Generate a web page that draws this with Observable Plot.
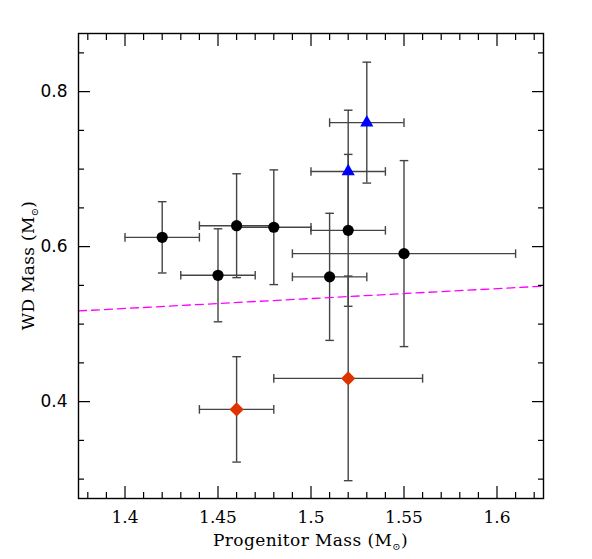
<!DOCTYPE html>
<html><head><meta charset="utf-8">
<script src="https://cdn.jsdelivr.net/npm/d3@7"></script>
<script src="https://cdn.jsdelivr.net/npm/@observablehq/plot@0.6"></script>
<style>body{margin:0;background:#fff}</style>
</head><body><div id="chart"></div>
<script>
// Black circles
const circleMass = [1.42, 1.45, 1.46, 1.48, 1.51, 1.52, 1.55];
const circleMassErr = [0.02, 0.02, 0.02, 0.02, 0.02, 0.02, 0.06];
const circleWD = [0.612, 0.563, 0.627, 0.625, 0.561, 0.621, 0.591];
const circleWDErr = [0.046, 0.060, 0.067, 0.074, 0.082, 0.098, 0.120];
// Blue triangles
const triangleMass = [1.52, 1.53];
const triangleMassErr = [0.02, 0.02];
const triangleWD = [0.697, 0.760];
const triangleWDErr = [0.079, 0.078];
// Red diamonds
const diamondMass = [1.46, 1.52];
const diamondMassErr = [0.02, 0.04];
const diamondWD = [0.390, 0.430];
const diamondWDErr = [0.068, 0.132];
// Magenta dashed relation
const lineMass = [1.375, 1.625];
const lineWD = [0.517, 0.549];
// Ticks
const xTicks = [1.4, 1.45, 1.5, 1.55, 1.6];
const xMinorTicks = [1.38, 1.39, 1.41, 1.42, 1.43, 1.44, 1.46, 1.47, 1.48, 1.49, 1.51, 1.52, 1.53, 1.54, 1.56, 1.57, 1.58, 1.59, 1.61, 1.62];
const yTicks = [0.4, 0.6, 0.8];
const yMinorTicks = [0.3, 0.35, 0.45, 0.5, 0.55, 0.65, 0.7, 0.75, 0.85];

const mk = (xs, xe, ys, ye, kind) => xs.map((x, i) => ({x, xe: xe[i], y: ys[i], ye: ye[i], kind}));
const circles = mk(circleMass, circleMassErr, circleWD, circleWDErr, "circle");
const triangles = mk(triangleMass, triangleMassErr, triangleWD, triangleWDErr, "triangle");
const diamonds = mk(diamondMass, diamondMassErr, diamondWD, diamondWDErr, "diamond");
const all = [...circles, ...diamonds, ...triangles];
const lineRows = lineMass.map((x, i) => ({x, y: lineWD[i]}));

const hCap = {draw(ctx, size) { const r = Math.sqrt(size / Math.PI); ctx.moveTo(-r, 0); ctx.lineTo(r, 0); }};
const vCap = {draw(ctx, size) { const r = Math.sqrt(size / Math.PI); ctx.moveTo(0, -r); ctx.lineTo(0, r); }};

const errColor = "#444";
const errW = 1.4;
const capR = 4.3;

const plot = Plot.plot({
  width: 592, height: 559,
  marginLeft: 78, marginRight: 49, marginTop: 33, marginBottom: 61,
  style: {background: "#fff", overflow: "visible"},
  x: {domain: [1.375, 1.625]},
  y: {domain: [0.275, 0.875]},
  marks: [
    // error bars
    Plot.ruleX(all, {x: "x", y1: d => d.y - d.ye, y2: d => d.y + d.ye, stroke: errColor, strokeWidth: errW}),
    Plot.ruleY(all, {y: "y", x1: d => d.x - d.xe, x2: d => d.x + d.xe, stroke: errColor, strokeWidth: errW}),
    Plot.dot(all, {x: "x", y: d => d.y - d.ye, symbol: hCap, r: capR, stroke: errColor, strokeWidth: errW, fill: "none"}),
    Plot.dot(all, {x: "x", y: d => d.y + d.ye, symbol: hCap, r: capR, stroke: errColor, strokeWidth: errW, fill: "none"}),
    Plot.dot(all, {x: d => d.x - d.xe, y: "y", symbol: vCap, r: capR, stroke: errColor, strokeWidth: errW, fill: "none"}),
    Plot.dot(all, {x: d => d.x + d.xe, y: "y", symbol: vCap, r: capR, stroke: errColor, strokeWidth: errW, fill: "none"}),
    // dashed line
    Plot.line(lineRows, {x: "x", y: "y", stroke: "#ff00ff", strokeWidth: 1.3, strokeDasharray: "8,5"}),
    // markers
    Plot.dot(circles, {x: "x", y: "y", r: 5.6, fill: "black", stroke: "none"}),
    Plot.dot(triangles, {x: "x", y: "y", symbol: "triangle", r: 4.9, fill: "#0000ff", stroke: "none"}),
    Plot.dot(diamonds, {x: "x", y: "y", symbol: "diamond2", r: 6.4, fill: "#df3300", stroke: "none"}),
    // inward ticks on all sides
    Plot.axisX({ticks: xTicks, anchor: "bottom", tickSize: -12, fill: "none", stroke: "black", strokeWidth: 1.2}),
    Plot.axisX({ticks: xTicks, anchor: "top", tickSize: -12, fill: "none", stroke: "black", strokeWidth: 1.2}),
    Plot.axisX({ticks: xMinorTicks, anchor: "bottom", tickSize: -6, fill: "none", stroke: "black", strokeWidth: 1.2}),
    Plot.axisX({ticks: xMinorTicks, anchor: "top", tickSize: -6, fill: "none", stroke: "black", strokeWidth: 1.2}),
    Plot.axisY({ticks: yTicks, anchor: "left", tickSize: -12, fill: "none", stroke: "black", strokeWidth: 1.2}),
    Plot.axisY({ticks: yTicks, anchor: "right", tickSize: -12, fill: "none", stroke: "black", strokeWidth: 1.2}),
    Plot.axisY({ticks: yMinorTicks, anchor: "left", tickSize: -6, fill: "none", stroke: "black", strokeWidth: 1.2}),
    Plot.axisY({ticks: yMinorTicks, anchor: "right", tickSize: -6, fill: "none", stroke: "black", strokeWidth: 1.2}),
    // tick labels
    Plot.axisX({ticks: xTicks, anchor: "bottom", tickSize: 0, tickPadding: 12, stroke: "none", fill: "black",
      tickFormat: d => String(d), label: null, fontFamily: "DejaVu Serif", fontSize: 17}),
    Plot.axisY({ticks: yTicks, anchor: "left", tickSize: 0, tickPadding: 11, stroke: "none", fill: "black",
      tickFormat: d => String(d), label: null, fontFamily: "DejaVu Sans", fontSize: 17}),
    Plot.frame({stroke: "black", strokeWidth: 1.4})
  ]
});

const svg = d3.select(plot);
function massLabel(sel, prefix) {
  sel.append("tspan").text(prefix + " (M");
  sel.append("tspan").attr("font-size", 10).attr("dy", 4).text("\u2299");
  sel.append("tspan").attr("dy", -4).text(")");
}
svg.append("text")
  .attr("x", 310.5).attr("y", 546)
  .attr("text-anchor", "middle")
  .attr("letter-spacing", 0.4)
  .attr("font-family", "DejaVu Serif").attr("font-size", 17).attr("fill", "black")
  .call(massLabel, "Progenitor Mass");
svg.append("text")
  .attr("transform", "translate(34,265.5) rotate(-90)")
  .attr("text-anchor", "middle")
  .attr("letter-spacing", 0.3)
  .attr("font-family", "DejaVu Serif").attr("font-size", 17).attr("fill", "black")
  .call(massLabel, "WD Mass");

document.getElementById("chart").appendChild(plot);
</script>
</body></html>
